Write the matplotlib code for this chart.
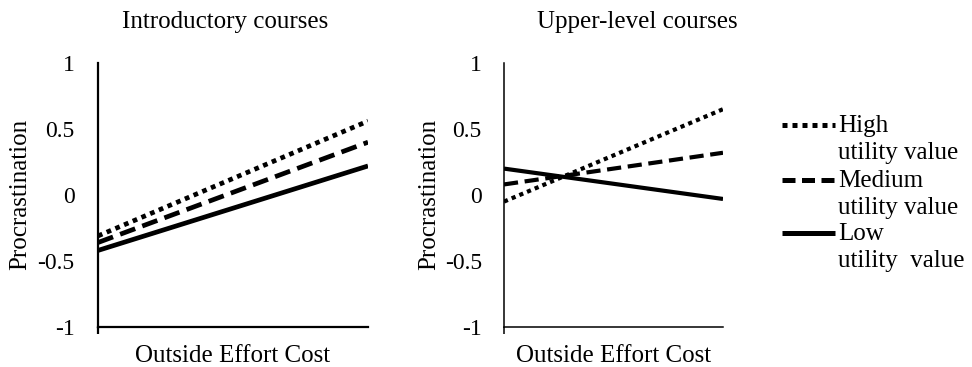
import matplotlib
matplotlib.use("Agg")
import matplotlib.pyplot as plt
from matplotlib.lines import Line2D

plt.rcParams["font.family"] = ["Liberation Serif", "DejaVu Serif"]

# -----------------------------------------------------------------------------
# Datos
# -----------------------------------------------------------------------------
x_points = [0, 1]
intro_high = [-0.31, 0.56]
intro_medium = [-0.36, 0.40]
intro_low = [-0.42, 0.22]
upper_high = [-0.05, 0.65]
upper_medium = [0.08, 0.32]
upper_low = [0.20, -0.03]

titles = ["Introductory courses", "Upper-level courses"]
legend_first = ["High", "Medium", "Low"]
legend_second = ["utility value", "utility value", "utility  value"]
y_ticks = [-1, -0.5, 0, 0.5, 1]
y_tick_labels = ["-1", "-0.5", "0", "0.5", "1"]

W, H = 972, 367
fig = plt.figure(figsize=(W / 100, H / 100), dpi=100)

def px(x, y):
    return x / W, 1 - y / H

# estilos: (dashes en unidades de lw)
dotted = (0, (1, 1))
dashed = (0, (3.4, 1.6))

panels = [
    dict(rect=[98 / W, 1 - 327 / H, 270 / W, 264 / H], lw=3.4, spine=1.6,
         data=[intro_high, intro_medium, intro_low], pad=17,
         title_x=225, ylab_x=20),
    dict(rect=[504 / W, 1 - 327 / H, 219 / W, 264 / H], lw=3.0, spine=1.1,
         data=[upper_high, upper_medium, upper_low], pad=16,
         title_x=637, ylab_x=429),
]

for i, p in enumerate(panels):
    ax = fig.add_axes(p["rect"])
    styles = [dotted, dashed, "-"]
    for vals, ls in zip(p["data"], styles):
        ax.plot(x_points, vals, color="black", lw=p["lw"], linestyle=ls,
                dash_capstyle="butt", solid_capstyle="butt")
    ax.set_xlim(0, 1)
    ax.set_ylim(-1, 1)
    ax.set_yticks(y_ticks)
    ax.set_yticklabels(y_tick_labels)
    ax.tick_params(axis="y", length=0, pad=p["pad"], labelsize=17)
    ax.set_xticks([0])
    ax.set_xticklabels([""])
    ax.tick_params(axis="x", length=5, width=p["spine"], direction="out")
    for s in ["top", "right"]:
        ax.spines[s].set_visible(False)
    for s in ["left", "bottom"]:
        ax.spines[s].set_linewidth(p["spine"])
    ax.patch.set_visible(False)

    cx = p["rect"][0] + p["rect"][2] / 2
    fig.text(p["title_x"] / W, 1 - 28 / H, titles[i], ha="center",
             va="baseline", fontsize=18)
    fig.text(cx, 1 - 362 / H, "Outside Effort Cost", ha="center",
             va="baseline", fontsize=18)
    fig.text(p["ylab_x"] / W, 1 - 194 / H, "Procrastination", rotation=90,
             ha="center", va="center", fontsize=18)

# Leyenda manual (mango alineado con la primera línea del texto)
leg_styles = [dotted, (0, (2.6, 1.3)), "-"]
leg_y = [125, 180, 233]
for style, first, second, yy in zip(leg_styles, legend_first, legend_second, leg_y):
    x0, y0 = px(782, yy)
    x1, _ = px(835, yy)
    fig.add_artist(Line2D([x0, x1], [y0, y0], transform=fig.transFigure,
                          color="black", lw=3.6, linestyle=style,
                          dash_capstyle="butt", solid_capstyle="butt"))
    fig.text(838 / W, 1 - (yy + 7) / H, first, ha="left", va="baseline",
             fontsize=18)
    fig.text(838 / W, 1 - (yy + 34) / H, second, ha="left", va="baseline",
             fontsize=18)

fig.savefig("out.png", dpi=100)
